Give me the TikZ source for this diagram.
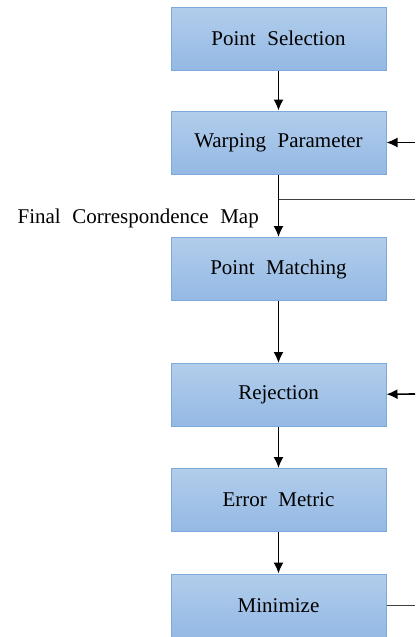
\documentclass[tikz,border=0pt]{standalone}
\usepackage{fontspec}
\setmainfont[WordSpace=2.2]{Liberation Serif}
\usetikzlibrary{arrows.meta}
\definecolor{boxtop}{HTML}{B2CDEB}
\definecolor{boxbot}{HTML}{94B9E4}
\definecolor{boxline}{HTML}{7EA9DB}
\tikzset{
  labelfont/.style={font=\fontsize{21}{24}\selectfont},
  stage/.style={draw=boxline, line width=1pt, top color=boxtop, bottom color=boxbot,
    minimum width=215pt, minimum height=63pt, inner sep=0pt, labelfont},
  flow/.style={line width=1.6pt, -{Latex[length=11pt,width=10pt]}},
  feed/.style={line width=1.6pt, draw=black!75},
}
\begin{document}
\begin{tikzpicture}[x=1pt, y=-1pt]
\useasboundingbox (0,0) rectangle (415,637);
\node[stage] (sel) at (278.5,38.5) {Point Selection};
\node[stage] (warp) at (278.5,142.5) {Warping Parameter};
\node[stage] (match) at (278.5,269) {Point Matching};
\node[stage] (rej) at (278.5,395) {Rejection};
\node[stage] (err) at (278.5,500) {Error Metric};
\node[stage] (mini) at (278.5,605.5) {Minimize};

\node[anchor=east, inner sep=0pt, labelfont] (lbl) at (259,218) {Final Correspondence Map};

\coordinate (inwarp) at (415,142.5);
\coordinate (split) at (278.5,199.5);
\coordinate (outsplit) at (415,199.5);
\coordinate (inrej) at (415,394);
\coordinate (outmin) at (415,605.5);

\draw[flow] (sel) -- (warp);
\draw[flow] (warp) -- (match);
\draw[flow] (match) -- (rej);
\draw[flow] (rej) -- (err);
\draw[flow] (err) -- (mini);
\draw[flow] (inwarp) -- (warp);
\draw[flow] (inrej) -- (rej);
\draw[feed] (split) -- (outsplit);
\draw[feed] (mini) -- (outmin);
\end{tikzpicture}
\end{document}
